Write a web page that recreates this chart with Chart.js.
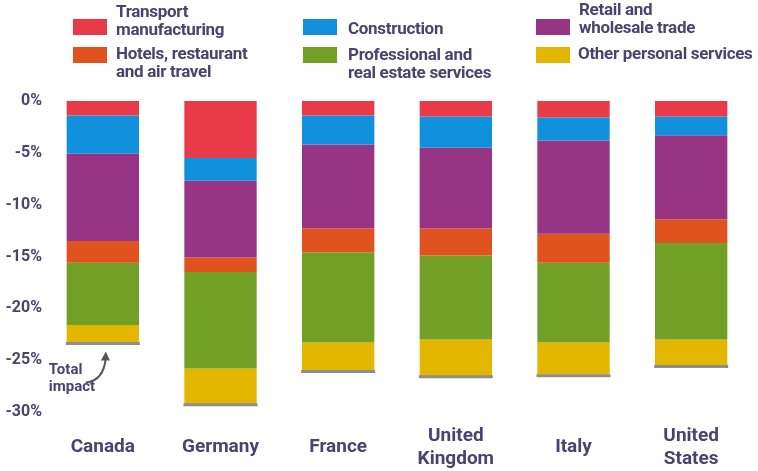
<!DOCTYPE html>
<html lang="en">
<head>
<meta charset="UTF-8">
<title>Impact by sector</title>
<script src="https://cdn.jsdelivr.net/npm/chart.js"></script>
<style>
  body { margin: 0; background: #fff; font-family: Roboto, "Liberation Sans", sans-serif; }
  #wrap { position: relative; width: 758px; height: 471px; }
  #chart { position: absolute; left: 0; top: 0; }
  .box { position: absolute; width: 34px; height: 16px; }
  .lbl { position: absolute; font-weight: bold; font-size: 17px; line-height: 18px; color: #4a4270; letter-spacing: -0.3px; white-space: nowrap; }
</style>
</head>
<body>
<div id="wrap">
  <canvas id="chart" width="758" height="471"></canvas>
  <div id="legend"></div>
</div>
<script>
// categories
var countries = [['Canada'], ['Germany'], ['France'], ['United', 'Kingdom'], ['Italy'], ['United', 'States']];

// share of output lost by sector (percent, negative)
var transport    = [-1.4, -5.5, -1.4, -1.5, -1.6, -1.5];
var construction = [-3.7, -2.2, -2.8, -3.0, -2.2, -1.8];
var retail       = [-8.4, -7.4, -8.1, -7.8, -9.0, -8.1];
var hotels       = [-2.1, -1.4, -2.3, -2.6, -2.8, -2.3];
var professional = [-6.0, -9.3, -8.7, -8.1, -7.7, -9.3];
var otherServ    = [-1.8, -3.5, -2.8, -3.6, -3.1, -2.5];
var totalImpact  = [-23.4, -29.3, -26.1, -26.6, -26.5, -25.6];

var yTicks = [0, -5, -10, -15, -20, -25, -30];

var series = [
  { name: ['Transport', 'manufacturing'], data: transport, color: '#e83a48', box: [73, 19], text: [116, 2] },
  { name: ['Construction'], data: construction, color: '#1190dc', box: [303, 19], text: [348, 19] },
  { name: ['Retail and', 'wholesale trade'], data: retail, color: '#983484', box: [536, 19], text: [579, 0] },
  { name: ['Hotels, restaurant', 'and air travel'], data: hotels, color: '#e0531e', box: [73, 47], text: [116, 44] },
  { name: ['Professional and', 'real estate services'], data: professional, color: '#72a027', box: [303, 47], text: [348, 45] },
  { name: ['Other personal services'], data: otherServ, color: '#e3b700', box: [536, 47], text: [578, 44] }
];

// legend as html
var legendHtml = '';
series.forEach(function(s) {
  legendHtml += '<div class="box" style="left:' + s.box[0] + 'px;top:' + s.box[1] + 'px;background:' + s.color + '"></div>';
  legendHtml += '<div class="lbl" style="left:' + s.text[0] + 'px;top:' + s.text[1] + 'px">' + s.name.join('<br>') + '</div>';
});
document.getElementById('legend').innerHTML = legendHtml;

var datasets = series.map(function(s) {
  return {
    label: s.name.join(' '),
    data: s.data,
    backgroundColor: s.color,
    borderWidth: 0,
    stack: 'sectors',
    categoryPercentage: 1,
    barPercentage: 0.615
  };
});
datasets.push({
  type: 'line',
  label: 'Total impact',
  data: totalImpact,
  showLine: false,
  pointStyle: 'line',
  pointRadius: 37,
  pointHoverRadius: 37,
  borderWidth: 3,
  borderColor: '#8e8e8e',
  stack: 'total',
  order: -1
});

// "Total impact" note with a curved arrow under Canada
var notePlugin = {
  id: 'note',
  afterDraw: function(chart) {
    var ctx = chart.ctx;
    var xs = chart.scales.x, ys = chart.scales.y;
    var ax = xs.getPixelForValue(0) + 3;
    var ay = ys.getPixelForValue(totalImpact[0]) + 9;
    ctx.save();
    ctx.strokeStyle = '#555';
    ctx.fillStyle = '#555';
    ctx.lineWidth = 2;
    ctx.beginPath();
    ctx.moveTo(ax - 20, ay + 30);
    ctx.quadraticCurveTo(ax - 2, ay + 28, ax, ay + 5);
    ctx.stroke();
    ctx.beginPath();
    ctx.moveTo(ax, ay - 1);
    ctx.lineTo(ax - 5, ay + 8);
    ctx.lineTo(ax + 4, ay + 8);
    ctx.closePath();
    ctx.fill();
    ctx.fillStyle = '#4a4270';
    ctx.font = 'bold 15px Roboto, "Liberation Sans", sans-serif';
    ctx.textAlign = 'left';
    ctx.textBaseline = 'top';
    ctx.fillText('Total', ax - 57, ay + 10);
    ctx.fillText('impact', ax - 57, ay + 27);
    ctx.restore();
  }
};

var ctx = document.getElementById('chart').getContext('2d');
var chart = new Chart(ctx, {
  type: 'bar',
  data: { labels: countries, datasets: datasets },
  plugins: [notePlugin],
  options: {
    responsive: false,
    animation: false,
    layout: { autoPadding: false, padding: { left: 0, right: 8, top: 101, bottom: 0 } },
    plugins: { legend: { display: false }, tooltip: { enabled: false } },
    scales: {
      x: {
        stacked: true,
        grid: { display: false, drawTicks: false },
        border: { display: false },
        ticks: {
          color: '#4a4270',
          font: { family: 'Roboto', size: 19, weight: 'bold', lineHeight: 1.2 },
          maxRotation: 0,
          autoSkip: false,
          crossAlign: 'center',
          padding: 24
        },
        afterFit: function(scale) { scale.height = 59; }
      },
      y: {
        stacked: true,
        min: -30,
        max: 0,
        grid: { display: false, drawTicks: false },
        border: { display: false },
        afterBuildTicks: function(scale) {
          scale.ticks = yTicks.map(function(v) { return { value: v }; });
        },
        ticks: {
          color: '#4a4270',
          font: { family: 'Roboto', size: 16, weight: 'bold' },
          padding: 2,
          callback: function(v) { return v + '%'; }
        },
        afterFit: function(scale) { scale.width = 44; }
      }
    }
  }
});
</script>
</body>
</html>
